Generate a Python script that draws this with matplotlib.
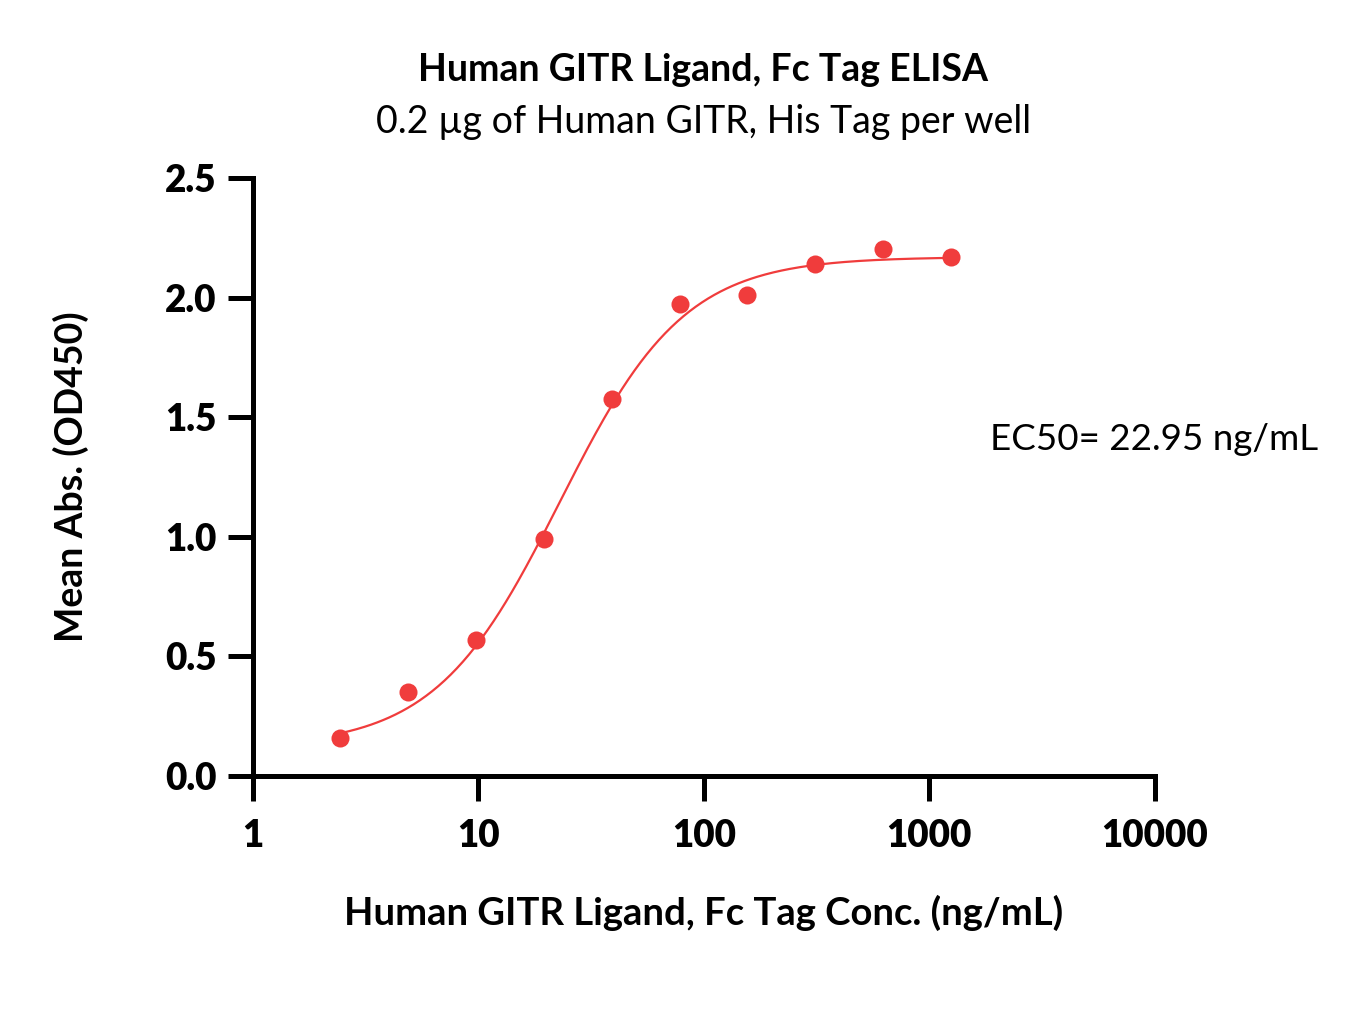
import numpy as np
import matplotlib
matplotlib.use('Agg')
import matplotlib.pyplot as plt

plt.rcParams['font.family'] = ['Lato', 'DejaVu Sans']

# measured points
conc = [2.44, 4.88, 9.77, 19.53, 39.06, 78.13, 156.25, 312.5, 625, 1250]
absorb = [0.16, 0.35, 0.57, 0.99, 1.575, 1.975, 2.01, 2.14, 2.205, 2.17]

# 4PL fit parameters
bottom = 0.12
top = 2.17
ec50 = 22.95
hill = 1.57

red = '#F03C3C'

fig = plt.figure(figsize=(13.6, 10.32), dpi=100)
ax = fig.add_axes([0.186, 0.248, 0.663, 0.5795])

xs = np.logspace(np.log10(conc[0]), np.log10(conc[-1]), 300)
ys = bottom + (top - bottom) / (1 + (ec50 / xs) ** hill)
ax.plot(xs, ys, color=red, lw=1.6, zorder=2)
ax.plot(conc, absorb, 'o', color=red, ms=13, mec='none', zorder=3, clip_on=False)

ax.set_xscale('log')
ax.set_xlim(1, 10000)
ax.set_ylim(0, 2.5)
ax.set_xticks([1, 10, 100, 1000, 10000])
ax.set_xticklabels(['1', '10', '100', '1000', '10000'])
ax.xaxis.set_minor_locator(matplotlib.ticker.NullLocator())
ax.set_yticks([0, 0.5, 1.0, 1.5, 2.0, 2.5])
ax.set_yticklabels(['0.0', '0.5', '1.0', '1.5', '2.0', '2.5'])

for s in ['top', 'right']:
    ax.spines[s].set_visible(False)
for s in ['left', 'bottom']:
    ax.spines[s].set_linewidth(3.6)
ax.tick_params(axis='both', width=3.6, length=18, labelsize=26.5, pad=8)
for lab in ax.get_xticklabels() + ax.get_yticklabels():
    lab.set_fontweight('heavy')
ax.tick_params(axis='x', pad=13)

ax.set_xlabel('Human GITR Ligand, Fc Tag Conc. (ng/mL)', fontsize=27.5, fontweight='bold', labelpad=30)
ax.set_ylabel('Mean Abs. (OD450)', fontsize=27, fontweight='bold', labelpad=55)

fig.text(0.517, 0.932, 'Human GITR Ligand, Fc Tag ELISA', ha='center', va='center',
         fontsize=27, fontweight='bold')
fig.text(0.517, 0.882, '0.2 µg of Human GITR, His Tag per well', ha='center', va='center',
         fontsize=27)
fig.text(0.728, 0.574, 'EC50= 22.95 ng/mL', ha='left', va='center', fontsize=26.5)

fig.savefig('out.png', dpi=100)
